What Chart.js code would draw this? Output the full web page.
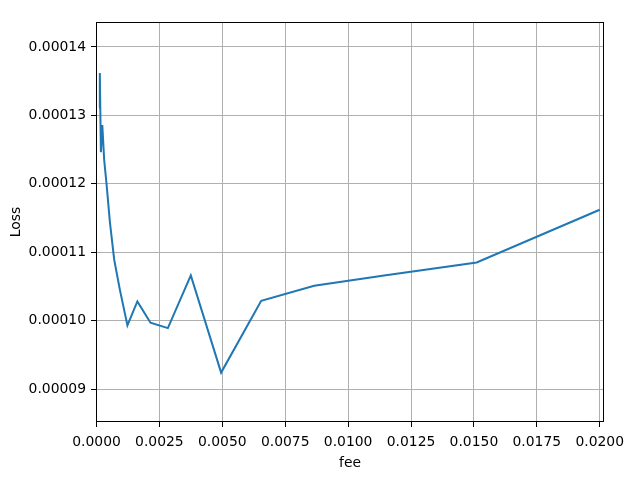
<!DOCTYPE html>
<html>
<head>
<meta charset="utf-8">
<script src="https://cdn.jsdelivr.net/npm/chart.js@4/dist/chart.umd.min.js"></script>
<style>
  html, body { margin: 0; padding: 0; background: #fff; }
  #wrap { width: 640px; height: 480px; }
</style>
</head>
<body>
<div id="wrap"><canvas id="lossChart" width="640" height="480"></canvas></div>
<script>
// fee values (x) and loss values (y)
const fee = [0.0001, 0.000132, 0.0001746, 0.0002307, 0.0003049, 0.0004029, 0.0005325, 0.0007037,
             0.00093, 0.001229, 0.001624, 0.002146, 0.002836, 0.003748, 0.004953, 0.006546,
             0.008651, 0.01143, 0.01511, 0.02];
const loss = [0.0001311, 0.0001362, 0.0001246, 0.0001286, 0.0001235, 0.0001198, 0.0001144, 0.0001089,
              0.0001045, 0.0000993, 0.0001028, 0.0000997, 0.0000989, 0.0001066, 0.0000924, 0.0001029,
              0.0001051, 0.0001066, 0.0001085, 0.0001162];
const xTicks = [0, 0.0025, 0.005, 0.0075, 0.01, 0.0125, 0.015, 0.0175, 0.02];
const yTicks = [0.00009, 0.0001, 0.00011, 0.00012, 0.00013, 0.00014];

const FONT = { family: "'DejaVu Sans', sans-serif", size: 13.9 };

// box around the plot area (matplotlib style frame)
const frame = {
    id: "frame",
    afterDatasetsDraw(chart) {
        const a = chart.chartArea, c = chart.ctx;
        c.save();
        c.strokeStyle = "#000";
        c.lineWidth = 1;
        c.strokeRect(Math.round(a.left) + 0.5, Math.round(a.top) + 0.5,
                     Math.round(a.right - a.left) - 1, Math.round(a.bottom - a.top) - 1);
        c.restore();
    }
};

new Chart(document.getElementById("lossChart"), {
    type: "scatter",
    data: {
        datasets: [{
            label: "Loss",
            data: fee.map((f, i) => ({ x: f, y: loss[i] })),
            showLine: true,
            borderColor: "#1f77b4",
            borderWidth: 2,
            pointRadius: 0,
            tension: 0
        }]
    },
    plugins: [frame],
    options: {
        responsive: false,
        animation: false,
        layout: { padding: { top: 22, right: 36, left: 0, bottom: 0 } },
        plugins: { legend: { display: false }, tooltip: { enabled: false } },
        scales: {
            x: {
                type: "linear",
                min: -0.00002,
                max: 0.02017,
                afterBuildTicks: s => { s.ticks = xTicks.map(v => ({ value: v })); },
                afterFit: s => { s.height = 58; },
                grid: { color: "#b0b0b0", lineWidth: 1, tickColor: "#000", tickLength: 5 },
                border: { display: false },
                ticks: { color: "#000", font: FONT, padding: 7, maxRotation: 0, autoSkip: false,
                         callback: v => v.toFixed(4) },
                title: { display: true, text: "fee", color: "#000", font: FONT, padding: { top: 4, bottom: 8 } }
            },
            y: {
                type: "linear",
                min: 0.00008518,
                max: 0.00014365,
                afterBuildTicks: s => { s.ticks = yTicks.map(v => ({ value: v })); },
                afterFit: s => { s.width = 96; },
                grid: { color: "#b0b0b0", lineWidth: 1, tickColor: "#000", tickLength: 5 },
                border: { display: false },
                ticks: { color: "#000", font: FONT, padding: 5, autoSkip: false,
                         callback: v => v.toFixed(5) },
                title: { display: true, text: "Loss", color: "#000", font: FONT, padding: { top: 8, bottom: 4 } }
            }
        }
    }
});
</script>
</body>
</html>
